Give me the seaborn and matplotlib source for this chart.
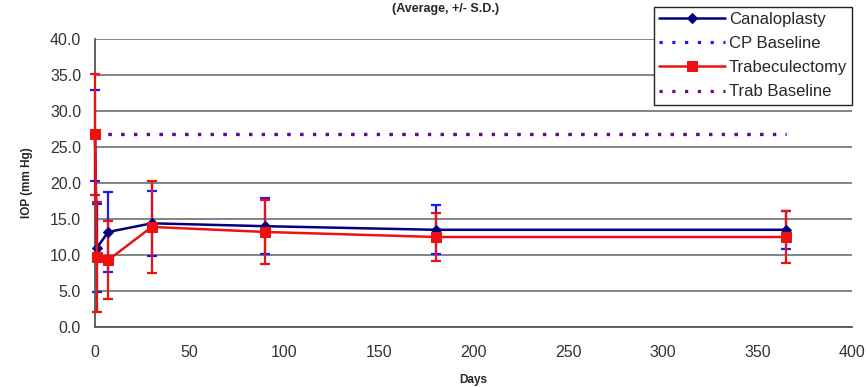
import numpy as np
import pandas as pd
import matplotlib
matplotlib.use("Agg")
import matplotlib.pyplot as plt
import seaborn as sns

# ---- data ----
days = [0, 1, 7, 30, 90, 180, 365]
cp_mean = [26.6, 11.0, 13.2, 14.4, 14.0, 13.5, 13.5]
cp_sd = [6.3, 6.1, 5.5, 4.5, 3.9, 3.4, 2.6]
trab_mean = [26.8, 9.7, 9.3, 13.9, 13.2, 12.5, 12.5]
trab_sd = [8.4, 7.6, 5.4, 6.4, 4.5, 3.4, 3.6]
baseline_days = [7, 365]
cp_baseline = [26.75, 26.75]
trab_baseline = [26.8, 26.8]

title = "(Average, +/- S.D.)"
xlabel = "Days"
ylabel = "IOP (mm Hg)"
yticks = [0, 5, 10, 15, 20, 25, 30, 35, 40]
xticks = [0, 50, 100, 150, 200, 250, 300, 350, 400]

sns.set_style("white")
plt.rcParams["font.family"] = ["Liberation Sans", "DejaVu Sans"]

fig = plt.figure(figsize=(8.66, 3.87), dpi=100)
ax = fig.add_axes([95 / 866, 1 - 327 / 387, (852 - 95) / 866, (327 - 39) / 387])

navy = "#000080"
blue = "#1a1aff"
red = "#ee1111"
purple = "#6a0a80"

cp_df = pd.DataFrame({"Days": days, "IOP": cp_mean})
tr_df = pd.DataFrame({"Days": days, "IOP": trab_mean})
cpb_df = pd.DataFrame({"Days": baseline_days, "IOP": cp_baseline})
trb_df = pd.DataFrame({"Days": baseline_days, "IOP": trab_baseline})

# grid
for yv in yticks:
    ax.axhline(yv, color="#7a7a7a", lw=1.3, zorder=0)

# error bars
eb1 = ax.errorbar(days, cp_mean, yerr=cp_sd, fmt="none", ecolor=blue, elinewidth=1.6,
                  capsize=3.5, capthick=1.6, zorder=2)
eb2 = ax.errorbar(days, trab_mean, yerr=trab_sd, fmt="none", ecolor=red, elinewidth=1.6,
                  capsize=3.5, capthick=1.6, zorder=3)
for eb in (eb1, eb2):
    for art in list(eb.lines[1]) + list(eb.lines[2]):
        art.set_clip_on(False)

dot = (0, (1, 3))
sns.lineplot(data=cp_df, x="Days", y="IOP", ax=ax, color=navy, lw=1.8,
             marker="D", markersize=5, markeredgecolor=navy, label="Canaloplasty",
             zorder=4, clip_on=False)
sns.lineplot(data=cpb_df, x="Days", y="IOP", ax=ax, color=blue, lw=2.3,
             linestyle=dot, label="CP Baseline", zorder=4)
sns.lineplot(data=tr_df, x="Days", y="IOP", ax=ax, color=red, lw=1.8,
             marker="s", markersize=7.5, markeredgecolor=red, label="Trabeculectomy",
             zorder=5, clip_on=False)
sns.lineplot(data=trb_df, x="Days", y="IOP", ax=ax, color=purple, lw=2.3,
             linestyle=dot, label="Trab Baseline", zorder=5)

ax.set_xlim(0, 400)
ax.set_ylim(0, 40)
ax.set_xticks(xticks)
ax.set_yticks(yticks)
ax.set_yticklabels([f"{v:.1f}" for v in yticks])
ax.tick_params(axis="both", direction="out", length=4, width=1, color="#444444",
               labelsize=11.5, labelcolor="#333333", pad=6)
ax.tick_params(axis="x", pad=9)
for s in ["top", "right"]:
    ax.spines[s].set_visible(False)
for s in ["left", "bottom"]:
    ax.spines[s].set_color("#555555")
    ax.spines[s].set_linewidth(1.3)

ax.set_xlabel(xlabel, fontsize=8.5, fontweight="bold", labelpad=10)
ax.set_ylabel(ylabel, fontsize=8.5, fontweight="bold", labelpad=12)

ax.get_legend().remove()
handles, labels = ax.get_legend_handles_labels()
leg = fig.legend(handles, labels, loc="upper right", bbox_to_anchor=(852 / 866, 1 - 7 / 387),
                 frameon=True, fancybox=False, edgecolor="#222222", framealpha=1,
                 fontsize=12, handlelength=4.0, handletextpad=0.2, labelspacing=0.55,
                 borderpad=0.3, borderaxespad=0)
leg.get_frame().set_linewidth(1.0)

fig.text(0.514, 1 - 9 / 387, title, ha="center", va="center", fontsize=9, fontweight="bold")

fig.savefig("out.png", dpi=100)
